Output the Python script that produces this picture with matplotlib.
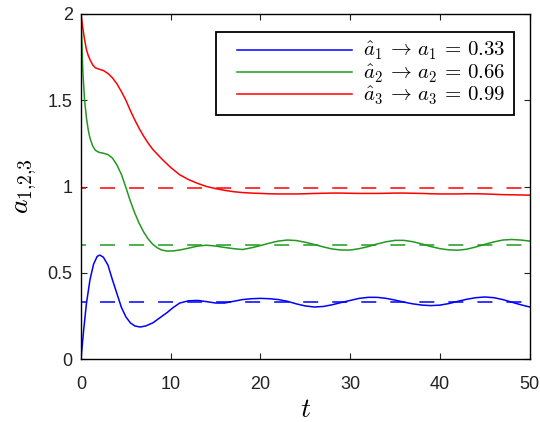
import matplotlib
matplotlib.use("Agg")
import matplotlib.pyplot as plt
from matplotlib.lines import Line2D
from matplotlib.legend_handler import HandlerLine2D

plt.rcParams["mathtext.fontset"] = "cm"
plt.rcParams["font.family"] = ["Liberation Sans", "DejaVu Sans"]
plt.rcParams["lines.scale_dashes"] = False

# estimates (t, a_hat)
blue_t = [0, 0.3, 0.6, 1.0, 1.4, 1.8, 2.1, 2.5, 3.0, 3.5, 4.0, 4.5, 5.0, 5.5,
          6.0, 6.6, 7.2, 8.0, 8.8, 9.6, 10.3, 11, 12, 13, 14, 15, 16, 17, 18,
          19, 20, 21, 22, 23, 24, 25, 26, 27, 28, 29, 30, 31, 32, 33, 34, 35,
          36, 37, 38, 39, 40, 41, 42, 43, 44, 45, 46, 47, 48, 49, 50]
blue_a = [0.0, 0.17, 0.32, 0.46, 0.55, 0.595, 0.603, 0.59, 0.545, 0.46, 0.38,
          0.30, 0.245, 0.21, 0.192, 0.186, 0.192, 0.21, 0.24, 0.27, 0.30,
          0.325, 0.338, 0.34, 0.333, 0.325, 0.325, 0.335, 0.345, 0.35, 0.352,
          0.35, 0.345, 0.335, 0.32, 0.308, 0.302, 0.305, 0.315, 0.328, 0.34,
          0.352, 0.358, 0.358, 0.352, 0.342, 0.33, 0.32, 0.313, 0.31, 0.313,
          0.322, 0.335, 0.347, 0.356, 0.36, 0.356, 0.345, 0.33, 0.315, 0.302]

green_t = [0, 0.2, 0.4, 0.6, 0.8, 1.0, 1.3, 1.6, 2.0, 2.5, 3.0, 3.5, 4.0, 4.5,
           5.0, 5.5, 6.0, 6.5, 7.0, 7.5, 8.0, 8.5, 9.0, 9.6, 10.3, 11, 12, 13,
           14, 15, 16, 17, 18, 19, 20, 21, 22, 23, 24, 25, 26, 27, 28, 29, 30,
           31, 32, 33, 34, 35, 36, 37, 38, 39, 40, 41, 42, 43, 44, 45, 46, 47,
           48, 49, 50]
green_a = [2.0, 1.67, 1.50, 1.40, 1.33, 1.28, 1.235, 1.21, 1.198, 1.193, 1.185,
           1.165, 1.125, 1.07, 0.995, 0.915, 0.845, 0.785, 0.735, 0.695, 0.665,
           0.645, 0.632, 0.626, 0.627, 0.632, 0.643, 0.655, 0.66, 0.655, 0.647,
           0.64, 0.635, 0.645, 0.658, 0.672, 0.684, 0.69, 0.687, 0.677, 0.664,
           0.65, 0.638, 0.632, 0.632, 0.64, 0.652, 0.667, 0.68, 0.688, 0.688,
           0.68, 0.667, 0.652, 0.64, 0.633, 0.631, 0.637, 0.65, 0.665, 0.679,
           0.69, 0.693, 0.69, 0.684]

red_t = [0, 0.2, 0.4, 0.6, 0.8, 1.0, 1.3, 1.6, 2.0, 2.5, 3.0, 3.5, 4.0, 4.5,
         5.0, 5.5, 6.0, 6.5, 7.0, 7.5, 8.0, 9, 10, 11, 12, 13, 14, 15, 16, 17,
         18, 19, 20, 21, 22, 23, 24, 25, 26, 27, 28, 29, 30, 31, 32, 33, 34,
         35, 36, 37, 38, 39, 40, 41, 42, 43, 44, 45, 46, 47, 48, 49, 50]
red_a = [2.0, 1.92, 1.85, 1.795, 1.76, 1.735, 1.705, 1.688, 1.68, 1.672,
         1.655, 1.63, 1.595, 1.55, 1.50, 1.44, 1.385, 1.335, 1.29, 1.25, 1.215,
         1.16, 1.11, 1.068, 1.04, 1.018, 1.0, 0.988, 0.978, 0.97, 0.965, 0.962,
         0.96, 0.958, 0.957, 0.957, 0.957, 0.958, 0.96, 0.961, 0.962, 0.962,
         0.961, 0.96, 0.96, 0.96, 0.961, 0.962, 0.962, 0.961, 0.96, 0.958,
         0.957, 0.957, 0.957, 0.958, 0.958, 0.957, 0.955, 0.953, 0.952, 0.951,
         0.95]

targets = [0.33, 0.66, 0.99]
labels = [
    r"$\hat{a}_1 \,\rightarrow\, a_1 \,=\, 0.33$",
    r"$\hat{a}_2 \,\rightarrow\, a_2 \,=\, 0.66$",
    r"$\hat{a}_3 \,\rightarrow\, a_3 \,=\, 0.99$",
]
colors = ["#0000ff", "#1f991f", "#ff0000"]

fig = plt.figure(figsize=(5.4, 4.22), dpi=100)
ax = fig.add_axes([0.15, 0.149, 0.831, 0.818])

series = [(blue_t, blue_a), (green_t, green_a), (red_t, red_a)]
for (t, a), target, label, color in zip(series, targets, labels, colors):
    ax.plot(t, a, color=color, linewidth=1.1, label=label)
    ax.plot([0, 50], [target, target], color=color, linewidth=1.1,
            linestyle=(7.2, (10.8, 10.1)))

ax.set_xlim(0, 50)
ax.set_ylim(0, 2)
ax.set_xticks([0, 10, 20, 30, 40, 50])
ax.set_yticks([0, 0.5, 1, 1.5, 2])
ax.set_yticklabels(["0", "0.5", "1", "1.5", "2"])

ax.tick_params(axis="both", direction="in", length=4, width=0.8,
               top=True, right=True, labelsize=13, colors="#222222")
ax.tick_params(axis="x", pad=12)
ax.tick_params(axis="y", pad=6)
for spine in ax.spines.values():
    spine.set_linewidth(1.0)
    spine.set_color("black")

ax.set_xlabel("$t$", fontsize=20, labelpad=3)
ax.set_ylabel("$a_{1{,}2{,}3}$", fontsize=20, labelpad=6)

handles = ax.get_lines()[0::2]
leg = ax.legend(handles, labels, loc="upper right",
                bbox_to_anchor=(0.964, 0.948), borderaxespad=0,
                fontsize=15, handlelength=6.1, handletextpad=0.55,
                labelspacing=0.0, fancybox=False, framealpha=1,
                borderpad=0.4,
                handler_map={Line2D: HandlerLine2D(xpad=0.61)})
leg.get_frame().set_edgecolor("black")
leg.get_frame().set_linewidth(1.3)

fig.savefig("out.png", dpi=100)
